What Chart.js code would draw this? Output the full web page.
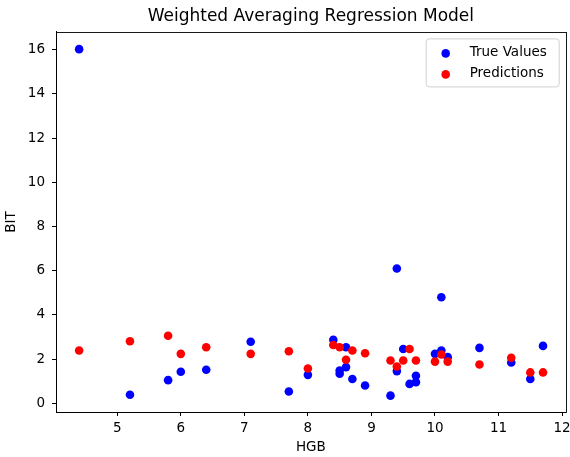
<!DOCTYPE html>
<html>
<head>
<meta charset="utf-8">
<script src="https://cdn.jsdelivr.net/npm/chart.js@4"></script>
<style>
  html, body { margin: 0; padding: 0; background: #fff; }
  #wrap { width: 570px; height: 457px; }
</style>
</head>
<body>
<div id="wrap"><canvas id="c" width="570" height="457"></canvas></div>
<script>
'use strict';

// ---------- data ----------
const trueX = [4.4, 5.2, 5.8, 6.0, 6.4, 7.1, 7.7, 8.0, 8.4, 8.6, 8.5, 8.5, 8.6, 8.7, 8.9,
  9.3, 9.4, 9.4, 9.5, 9.6, 9.7, 9.7, 10.0, 10.1, 10.1, 10.2, 10.7, 11.2, 11.5, 11.7];
const trueY = [16.02, 0.39, 1.05, 1.43, 1.52, 2.79, 0.54, 1.29, 2.88, 2.54, 1.49, 1.34, 1.64, 1.10, 0.81,
  0.35, 1.46, 6.10, 2.46, 0.88, 1.25, 0.96, 2.24, 2.39, 4.80, 2.09, 2.51, 1.85, 1.10, 2.60];
const predX = [4.4, 5.2, 5.8, 6.0, 6.4, 7.1, 7.7, 8.0, 8.4, 8.5, 8.6, 8.7, 8.9,
  9.3, 9.4, 9.5, 9.6, 9.7, 10.0, 10.1, 10.2, 10.7, 11.2, 11.5, 11.7];
const predY = [2.39, 2.81, 3.06, 2.24, 2.54, 2.24, 2.36, 1.58, 2.64, 2.54, 1.97, 2.39, 2.27,
  1.94, 1.67, 1.94, 2.46, 1.94, 1.89, 2.21, 1.89, 1.76, 2.06, 1.40, 1.40];
const xTicks = [5, 6, 7, 8, 9, 10, 11, 12];
const yTicks = [0, 2, 4, 6, 8, 10, 12, 14, 16];

const FONT = 'DejaVu Sans';
const pts = (xs, ys) => xs.map((x, i) => ({ x, y: ys[i] }));

// 四辺の枠 (matplotlib の spines)
const framePlugin = {
  id: 'frame',
  afterDraw(chart) {
    const { left, right, top, bottom } = chart.chartArea;
    const c = chart.ctx; c.save();
    c.strokeStyle = '#000'; c.lineWidth = 0.9;
    c.strokeRect(Math.round(left) + 0.5, Math.round(top) + 0.5, Math.round(right - left), Math.round(bottom - top));
    c.restore();
  }
};

// 枠内右上の凡例
const legendPlugin = {
  id: 'innerLegend',
  afterDraw(chart) {
    const { right, top } = chart.chartArea;
    const c = chart.ctx; c.save();
    const w = 133, h = 48, x0 = right - 7 - w, y0 = top + 6.5;
    c.fillStyle = 'rgba(255,255,255,0.8)'; c.strokeStyle = '#d0d0d0'; c.lineWidth = 1;
    c.beginPath(); c.roundRect(x0 + 0.5, y0 + 0.5, w, h, 3); c.fill(); c.stroke();
    c.font = `13.5px "${FONT}"`; c.textBaseline = 'middle'; c.textAlign = 'left';
    chart.data.datasets.forEach((ds, i) => {
      const cy = y0 + 14 + i * 21;
      c.fillStyle = ds.backgroundColor;
      c.beginPath(); c.arc(x0 + 20, cy + 1, 4.3, 0, Math.PI * 2); c.fill();
      c.fillStyle = '#000';
      c.fillText(ds.label, x0 + 44, cy);
    });
    c.restore();
  }
};

new Chart(document.getElementById('c'), {
  type: 'scatter',
  data: {
    datasets: [
      { label: 'True Values', data: pts(trueX, trueY), backgroundColor: '#0000ff', borderWidth: 0, pointRadius: 4.3, order: 1 },
      { label: 'Predictions', data: pts(predX, predY), backgroundColor: '#ff0000', borderWidth: 0, pointRadius: 4.3, order: 0 }
    ]
  },
  options: {
    responsive: false,
    animation: false,
    events: [],
    layout: { padding: { left: 0, right: 4, top: 0, bottom: 0 } },
    plugins: {
      legend: { display: false },
      tooltip: { enabled: false },
      title: {
        display: true, fullSize: false, text: 'Weighted Averaging Regression Model', color: '#000',
        font: { family: FONT, size: 17, weight: 'normal', lineHeight: 1.2 },
        padding: { top: 6, bottom: 5.5 }
      }
    },
    scales: {
      x: {
        type: 'linear', min: 4.036, max: 12.057,
        afterBuildTicks: (s) => { s.ticks = xTicks.map(v => ({ value: v })); },
        afterFit: (s) => { s.height = 45; s.paddingLeft = 0; s.paddingRight = 0; },
        grid: { drawOnChartArea: false, tickLength: 4, color: '#000', tickWidth: 1 },
        border: { display: true, color: '#000', width: 1 },
        ticks: { color: '#000', padding: 4, maxRotation: 0, font: { family: FONT, size: 13.5 } },
        title: { display: true, text: 'HGB', color: '#000', padding: { top: 0, bottom: 1 },
          font: { family: FONT, size: 13.5 } }
      },
      y: {
        type: 'linear', min: -0.39, max: 16.8,
        afterBuildTicks: (s) => { s.ticks = yTicks.map(v => ({ value: v })); },
        afterFit: (s) => { s.width = 56; s.paddingTop = 0; s.paddingBottom = 0; },
        grid: { drawOnChartArea: false, tickLength: 4, color: '#000', tickWidth: 1 },
        border: { display: true, color: '#000', width: 1 },
        ticks: { color: '#000', padding: 7, font: { family: FONT, size: 13.5 } },
        title: { display: true, text: 'BIT', color: '#000', padding: { top: 3, bottom: 0 },
          font: { family: FONT, size: 13.5 } }
      }
    }
  },
  plugins: [framePlugin, legendPlugin]
});
</script>
</body>
</html>
